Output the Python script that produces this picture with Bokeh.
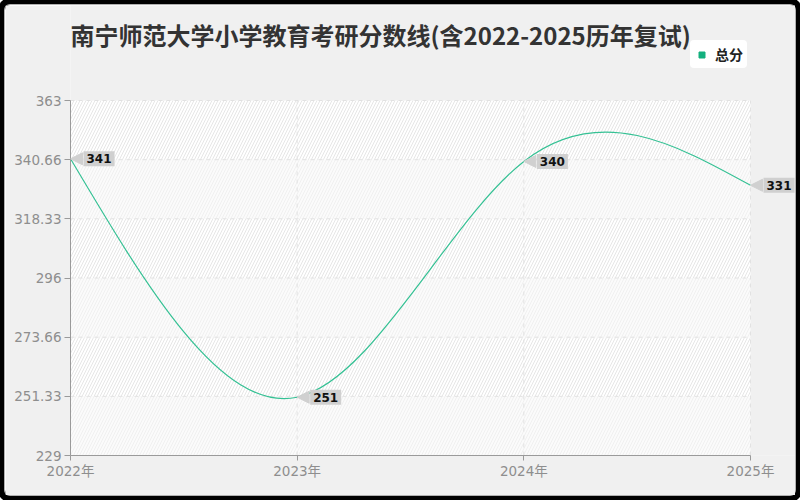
import numpy as np
from bokeh.plotting import figure
from bokeh.models import (Range1d, BoxAnnotation, Label, ColumnDataSource,
                          Legend, LegendItem, Arrow, NormalHead)
from bokeh.embed import file_html
from bokeh.resources import INLINE

# ---------------- data ----------------
title_text = "南宁师范大学小学教育考研分数线(含2022-2025历年复试)"
series_name = "总分"
years = [2022, 2023, 2024, 2025]
scores = [341, 251, 340, 331]
x_tick_labels = ["2022年", "2023年", "2024年", "2025年"]
y_ticks = [229, 251.33, 273.66, 296, 318.33, 340.66, 363]
y_tick_labels = ["229", "251.33", "273.66", "296", "318.33", "340.66", "363"]

# ---------------- layout (pixels) ----------------
FIG_W, FIG_H = 790, 490
LEFT, BOTTOM = 65, 40          # borders holding the axes
PLOT_W, PLOT_H = 680, 355      # drawn plot area (axis extent)
FRAME_W, FRAME_H = FIG_W - LEFT, FIG_H - BOTTOM

# ---------------- styles ----------------
LINE_COLOR = "#35c194"
MARK_COLOR = "#14b07f"
TAG_COLOR = "#d0d0d0"
AXIS_COLOR = "#9a9a9a"
LABEL_COLOR = "#8e8e8e"
GRID_COLOR = "#e2e2e2"
CJK = "'Noto Sans CJK SC', 'Noto Sans', sans-serif"
LABEL_PROPS = Label.properties()


def natural_spline_beziers(xs, ys):
    """Convert a natural cubic spline through the points into cubic Bezier segments."""
    xs = np.asarray(xs, float)
    ys = np.asarray(ys, float)
    n = len(xs)
    h = np.diff(xs)
    A = np.zeros((n, n))
    r = np.zeros(n)
    A[0, 0] = A[-1, -1] = 1.0
    for i in range(1, n - 1):
        A[i, i - 1] = h[i - 1]
        A[i, i] = 2 * (h[i - 1] + h[i])
        A[i, i + 1] = h[i]
        r[i] = 6 * ((ys[i + 1] - ys[i]) / h[i] - (ys[i] - ys[i - 1]) / h[i - 1])
    M = np.linalg.solve(A, r)
    seg = dict(x0=[], y0=[], x1=[], y1=[], cx0=[], cy0=[], cx1=[], cy1=[])
    for i in range(n - 1):
        hi = h[i]
        s = (ys[i + 1] - ys[i]) / hi
        d0 = s - hi * (2 * M[i] + M[i + 1]) / 6
        d1 = s + hi * (M[i] + 2 * M[i + 1]) / 6
        seg["x0"].append(xs[i]); seg["y0"].append(ys[i])
        seg["x1"].append(xs[i + 1]); seg["y1"].append(ys[i + 1])
        seg["cx0"].append(xs[i] + hi / 3); seg["cy0"].append(ys[i] + hi / 3 * d0)
        seg["cx1"].append(xs[i + 1] - hi / 3); seg["cy1"].append(ys[i + 1] - hi / 3 * d1)
    return seg


# ranges: the data region occupies PLOT_W x PLOT_H at the bottom-left of the frame,
# the rest of the frame holds title, legend and overflowing tags
x0, x1 = years[0], years[-1]
ylo, yhi = y_ticks[0], y_ticks[-1]
x_end = x0 + (x1 - x0) * FRAME_W / PLOT_W
y_end = ylo + (yhi - ylo) * FRAME_H / PLOT_H

p = figure(width=FIG_W, height=FIG_H, output_backend="svg", toolbar_location=None,
           x_range=Range1d(x0, x_end), y_range=Range1d(ylo, y_end),
           min_border_left=LEFT, min_border_right=0, min_border_top=0, min_border_bottom=BOTTOM)
p.border_fill_color = "#f0f0f0"
p.background_fill_color = "#f0f0f0"
p.outline_line_color = None
p.styles = {"margin": "5px", "border-radius": "5px",
            "box-shadow": "0 0 0 1px #b0b0b0, 0 0 0 7px #000"}

# alternating hatched bands forming the plot area
for i in range(len(y_ticks) - 1):
    strong = (i % 2 == 1)
    band = BoxAnnotation(left=x0, right=x1, bottom=y_ticks[i], top=y_ticks[i + 1], level="image",
                         fill_color="#ffffff" if strong else "#fbfbfb", fill_alpha=1.0,
                         line_alpha=0, hatch_pattern="/",
                         hatch_color="#e6e6e6" if strong else "#f0f0f0",
                         hatch_scale=6, hatch_weight=1)
    p.add_layout(band)

# axes
p.xaxis.ticker = years
p.yaxis.ticker = y_ticks
p.xaxis.bounds = (x0, x1)
p.yaxis.bounds = (ylo, yhi)
p.xaxis.major_label_overrides = {yr: lab for yr, lab in zip(years, x_tick_labels)}
p.yaxis.major_label_overrides = {t: lab for t, lab in zip(y_ticks, y_tick_labels)}
for ax in (p.xaxis[0], p.yaxis[0]):
    ax.axis_line_color = AXIS_COLOR
    ax.major_tick_line_color = AXIS_COLOR
    ax.minor_tick_line_color = None
    ax.major_tick_in = 0
    ax.major_label_text_color = LABEL_COLOR
    ax.major_label_text_font = "DejaVu Sans, 'Noto Sans CJK SC'"
    ax.major_label_text_font_size = "13.5px"
p.yaxis.major_tick_out = 6
p.yaxis.major_label_standoff = 3
p.xaxis.major_tick_out = 5
p.xaxis.major_label_standoff = 2

# dashed grid restricted to the plot area
p.grid.visible = False
p.segment(x0=years, y0=[ylo] * len(years), x1=years, y1=[yhi] * len(years),
          line_color=GRID_COLOR, line_dash="4 4", line_width=1)
p.segment(x0=[x0] * len(y_ticks), y0=y_ticks, x1=[x1] * len(y_ticks), y1=y_ticks,
          line_color=GRID_COLOR, line_dash="4 4", line_width=1)

# smooth line
seg = natural_spline_beziers(years, scores)
p.bezier(source=ColumnDataSource(seg), x0="x0", y0="y0", x1="x1", y1="y1",
         cx0="cx0", cy0="cy0", cx1="cx1", cy1="cy1",
         line_color=LINE_COLOR, line_width=1.2)

# invisible markers for the legend swatch
r_leg = p.scatter(x=years, y=scores, size=0, marker="square",
                  fill_color=MARK_COLOR, line_color=MARK_COLOR)

# value tags
tag_src = ColumnDataSource(dict(x=years, y=scores, xs=[y + 0.05 for y in years]))
arrow = Arrow(x_start="xs", y_start="y", x_end="x", y_end="y", source=tag_src,
              line_alpha=0,
              end=NormalHead(size=12, fill_color=TAG_COLOR, line_color=TAG_COLOR, line_width=1))
p.add_layout(arrow)


def tag_label(xv, yv, txt, dx, dy, bg, alpha):
    kw = dict(x=xv, y=yv, text=txt, x_offset=dx, y_offset=dy,
              text_align="left", text_baseline="middle", text_color="#111111",
              text_alpha=alpha, text_font="DejaVu Sans", text_font_size="12px",
              text_font_style="bold", background_fill_color=bg)
    if "padding" in LABEL_PROPS:
        kw["padding"] = 3
    return Label(**kw)


for xv, yv in zip(years, scores):
    p.add_layout(tag_label(xv, yv, str(yv), 14, -1, "#b5b5b5", 0.0))
    p.add_layout(tag_label(xv, yv, str(yv), 13, 0, TAG_COLOR, 1.0))

# title (screen units relative to the frame's bottom-left)
title = Label(x=0, y=PLOT_H + 66, x_units="screen", y_units="screen", text=title_text,
              text_align="left", text_baseline="middle", text_color="#333333",
              text_font=CJK, text_font_size="24px", text_font_style="bold")
p.add_layout(title)

# legend
legend = Legend(items=[LegendItem(label=series_name, renderers=[r_leg])],
                location=(PLOT_W - 60, PLOT_H + 32), orientation="horizontal",
                background_fill_color="#ffffff", background_fill_alpha=1.0,
                border_line_alpha=0, padding=4, margin=0, spacing=0,
                glyph_width=15, glyph_height=15, label_standoff=6, label_height=15,
                label_text_font=CJK, label_text_font_size="14px",
                label_text_font_style="bold", label_text_color="#222222")
if "border_radius" in Legend.properties():
    legend.border_radius = 4
p.add_layout(legend)

open("out.html", "w").write(file_html(p, INLINE))
